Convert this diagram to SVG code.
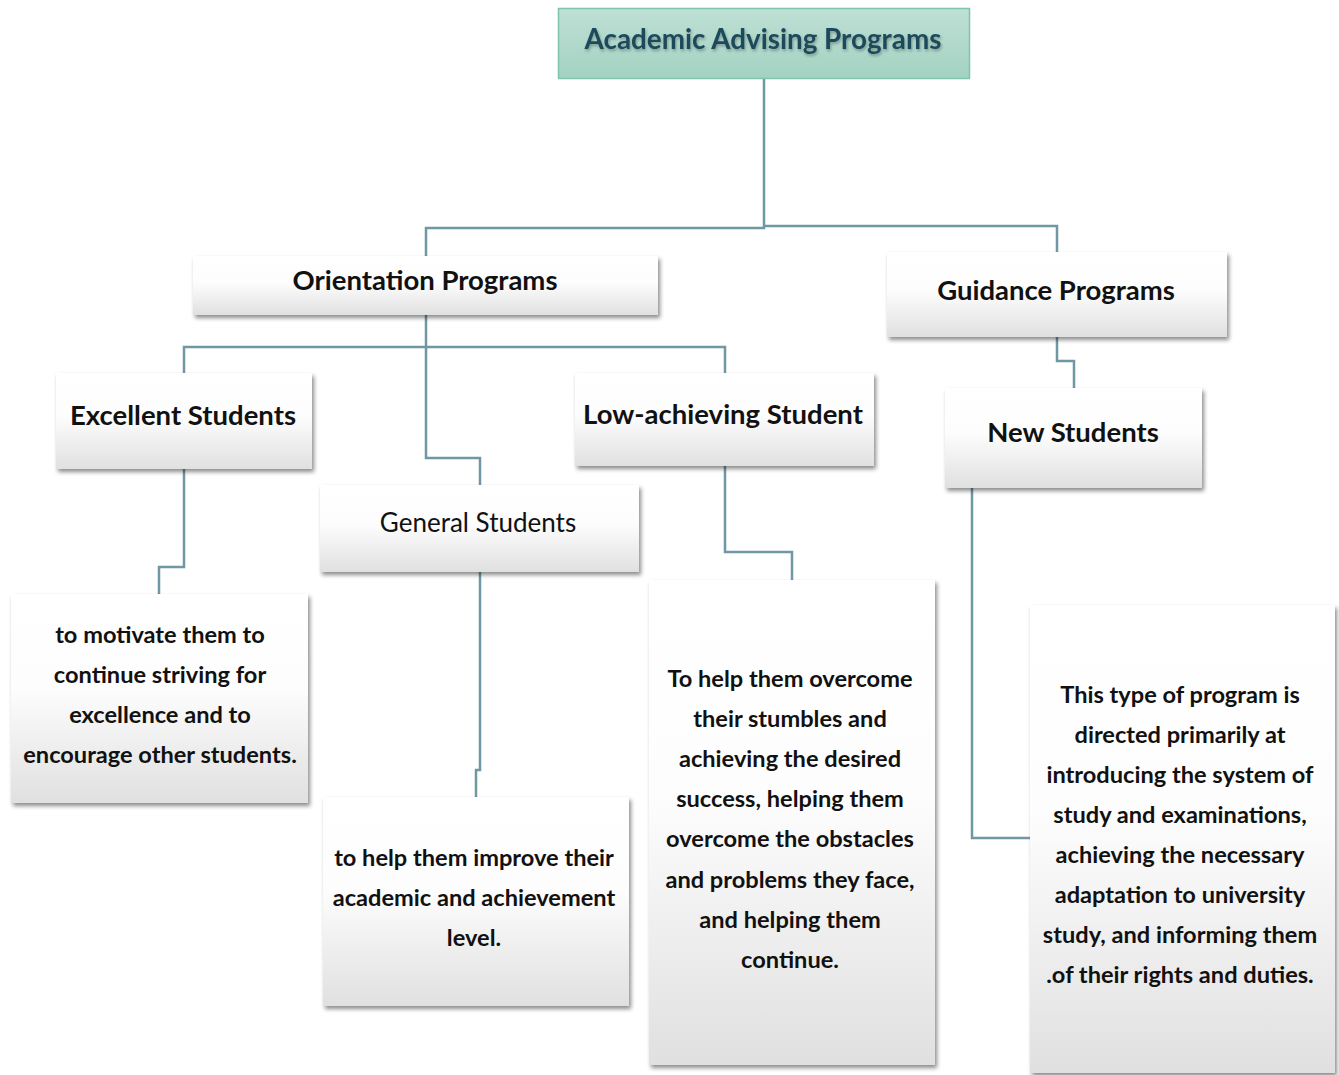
<svg xmlns="http://www.w3.org/2000/svg" width="1339" height="1075" viewBox="0 0 1339 1075">
<defs>
<linearGradient id="gBox" x1="0" y1="0" x2="0" y2="1">
<stop offset="0" stop-color="#ffffff"/>
<stop offset="0.45" stop-color="#fdfdfd"/>
<stop offset="1" stop-color="#e0e0e0"/>
</linearGradient>
<linearGradient id="gTitle" x1="0" y1="0" x2="0" y2="1">
<stop offset="0" stop-color="#bfe0d5"/>
<stop offset="1" stop-color="#a3d2c1"/>
</linearGradient>
<filter id="sh" x="-10%" y="-10%" width="125%" height="125%">
<feDropShadow dx="2" dy="3" stdDeviation="2.2" flood-color="#000" flood-opacity="0.45"/>
</filter>
<filter id="tsh" x="-5%" y="-20%" width="110%" height="150%">
<feDropShadow dx="1" dy="2" stdDeviation="1.5" flood-color="#000" flood-opacity="0.3"/>
</filter>
</defs>
<style>
.box{fill:url(#gBox);filter:url(#sh);}
.t{font-family:Lato,"Liberation Sans",sans-serif;font-weight:bold;fill:#111;text-anchor:middle;}
.h{font-size:27.5px;}
.d{font-size:23.6px;}
.c{fill:none;stroke:#6f98a4;stroke-width:2.5;}
</style>
<rect width="1339" height="1075" fill="#ffffff"/>
<g id="connectors">
<polyline class="c" points="764,79 764,228 426,228 426,256"/>
<polyline class="c" points="764,226 1057,226 1057,252"/>
<polyline class="c" points="426,315 426,347"/>
<polyline class="c" points="184,373 184,347 725,347 725,374"/>
<polyline class="c" points="426,347 426,458 480,458 480,485"/>
<polyline class="c" points="1057,337 1057,361 1074,361 1074,388"/>
<polyline class="c" points="184,469 184,567 159,567 159,594"/>
<polyline class="c" points="480,572 480,770 476,770 476,797"/>
<polyline class="c" points="725,466 725,552 792,552 792,580"/>
<polyline class="c" points="972,488 972,838 1030,838"/>
</g>
<g id="title">
<rect x="558.5" y="8.5" width="411" height="70" fill="url(#gTitle)" stroke="#7fc4ad" stroke-width="1.5"/>
<text x="763" y="49" class="t" style="font-size:27.8px;fill:#1e4a5c;filter:url(#tsh)">Academic Advising Programs</text>
</g>
<g id="orientation">
<rect class="box" x="193" y="256" width="465" height="59"/>
<text x="425" y="290" class="t h">Orientation Programs</text>
</g>
<g id="guidance">
<rect class="box" x="887" y="252" width="340" height="85"/>
<text x="1056" y="300" class="t h">Guidance Programs</text>
</g>
<g id="excellent">
<rect class="box" x="56" y="373" width="256" height="96"/>
<text x="183" y="425" class="t h">Excellent Students</text>
</g>
<g id="lowachieving">
<rect class="box" x="575" y="373" width="299" height="93"/>
<text x="723" y="424" class="t h">Low-achieving Student</text>
</g>
<g id="general">
<rect class="box" x="320" y="485" width="319" height="87"/>
<text x="478" y="532" class="t" style="font-size:26px;font-weight:normal">General Students</text>
</g>
<g id="newstudents">
<rect class="box" x="945" y="388" width="257" height="100"/>
<text x="1073" y="442" class="t h">New Students</text>
</g>
<g id="desc-excellent">
<rect class="box" x="11" y="594" width="297" height="209"/>
<text class="t d" x="160" y="643">to motivate them to</text>
<text class="t d" x="160" y="683">continue striving for</text>
<text class="t d" x="160" y="723">excellence and to</text>
<text class="t d" x="160" y="763">encourage other students.</text>
</g>
<g id="desc-general">
<rect class="box" x="323" y="797" width="306" height="209"/>
<text class="t d" x="474" y="866">to help them improve their</text>
<text class="t d" x="474" y="906">academic and achievement</text>
<text class="t d" x="474" y="946">level.</text>
</g>
<g id="desc-low">
<rect class="box" x="649" y="580" width="286" height="485"/>
<text class="t d" x="790" y="687">To help them overcome</text>
<text class="t d" x="790" y="727">their stumbles and</text>
<text class="t d" x="790" y="767">achieving the desired</text>
<text class="t d" x="790" y="807">success, helping them</text>
<text class="t d" x="790" y="847">overcome the obstacles</text>
<text class="t d" x="790" y="888">and problems they face,</text>
<text class="t d" x="790" y="928">and helping them</text>
<text class="t d" x="790" y="968">continue.</text>
</g>
<g id="desc-new">
<rect class="box" x="1030" y="605" width="305" height="468"/>
<text class="t d" x="1180" y="703">This type of program is</text>
<text class="t d" x="1180" y="743">directed primarily at</text>
<text class="t d" x="1180" y="783">introducing the system of</text>
<text class="t d" x="1180" y="823">study and examinations,</text>
<text class="t d" x="1180" y="863">achieving the necessary</text>
<text class="t d" x="1180" y="903">adaptation to university</text>
<text class="t d" x="1180" y="943">study, and informing them</text>
<text class="t d" x="1180" y="983">.of their rights and duties.</text>
</g>
</svg>
